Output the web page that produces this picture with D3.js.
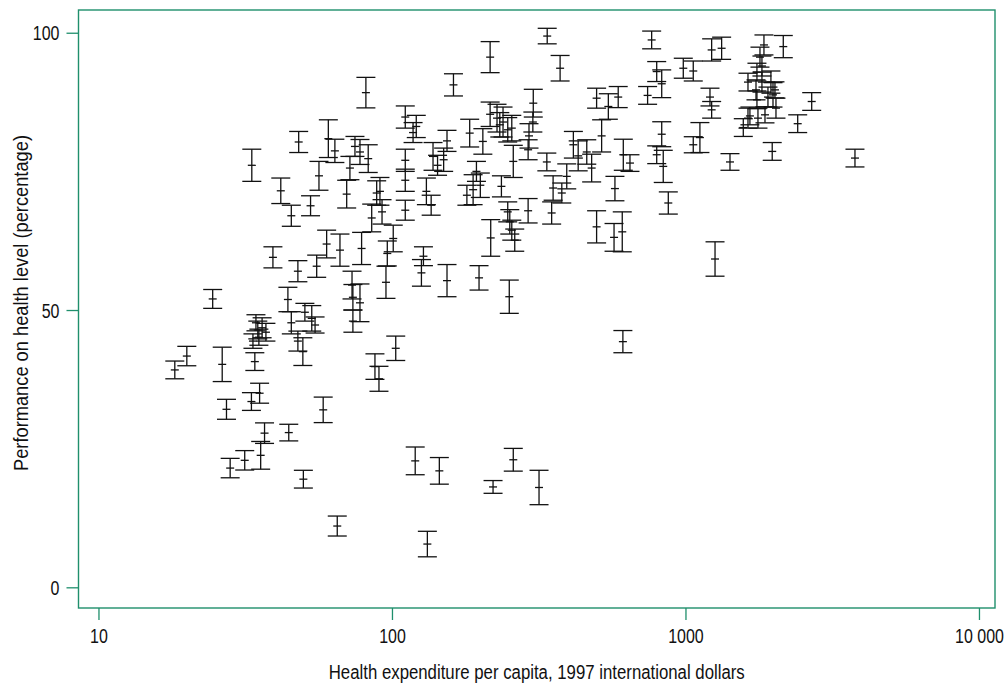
<!DOCTYPE html>
<html>
<head>
<meta charset="utf-8">
<script src="https://cdn.jsdelivr.net/npm/d3@7"></script>
<style>
  body { margin: 0; background: #fff; }
  svg { display: block; }
  text { font-family: "Liberation Sans Narrow", "Arial Narrow", "Liberation Sans", sans-serif; fill: #111; }
</style>
</head>
<body>
<script>
// health expenditure per capita (1997 intl dollars)
const spending = [
  18.2, 20.0, 24.5, 26.4, 27.3, 28.1, 31.5, 33.2, 33.3, 34.1, 35.4, 35.7, 36.8, 39.3, 41.8,
  44.5, 45.4, 44.2, 45.4, 48.1, 47.8, 47.8, 49.7, 49.9, 34.4, 34.9, 35.2, 36.1, 37.2, 33.6,
  52.8, 55.4, 56.4, 53.3, 50.5, 54.7, 58.3, 60.7, 63.9, 59.9, 66.5, 65.1, 70.1, 71.9, 74.8,
  77.8, 73.6, 77.8, 73.6, 73.1, 78.8, 81.5, 83.0, 85.3, 88.7, 91.0, 87.5, 90.3, 96.4, 95.4,
  101, 103, 92.5,
  111, 118, 121, 111, 111, 111, 126, 128, 131, 138, 150, 154, 154, 162, 143, 136, 120, 132, 145,
  184, 204, 216, 194, 180, 189, 200, 216, 228, 233, 239, 248, 256, 259, 236, 198, 217, 251,
  221, 259, 317, 248, 252, 256, 262, 291, 291, 303, 302, 293,
  338, 374, 337, 350, 379, 354, 394, 415, 431, 461, 479, 498, 518, 498, 546, 571, 575, 590,
  609, 614, 612,
  647, 743, 767, 798, 830, 830, 798, 840, 874, 983, 1063, 1120, 1063, 1212, 1228, 1228, 1328,
  1261, 1418,
  1851, 2154, 1574, 1633, 2692, 2412, 3780, 1975, 1794, 1822, 1752, 1822, 1739, 1955, 1987,
  1752, 1910, 2034, 1766, 1866, 1658, 2018, 1633
];
// performance on health level (%)
const performance = [
  39.2, 41.7, 52.0, 40.2, 32.1, 21.5, 22.9, 33.5, 76.1, 40.7, 35.0, 23.8, 27.8, 59.5, 71.5,
  27.9, 67.0, 51.9, 47.7, 80.3, 57.0, 44.4, 42.5, 19.5, 47.7, 46.4, 45.1, 46.8, 46.0, 44.4,
  68.8, 57.9, 74.2, 48.5, 49.6, 47.3, 32.0, 80.9, 78.7, 61.9, 60.8, 11.05, 70.9, 75.6, 79.5,
  78.5, 52.3, 51.3, 48.0, 54.5, 61.1, 89.2, 77.3, 66.6, 71.1, 71.4, 39.8, 37.6, 60.2, 55.0,
  62.9, 43.1, 67.7,
  84.8, 82.0, 83.1, 77.0, 73.4, 68.0, 56.7, 59.7, 71.4, 77.7, 77.1, 80.5, 55.3, 90.6, 76.1, 68.9, 22.8, 7.8, 21.0,
  81.9, 80.4, 95.6, 75.0, 70.7, 71.7, 72.5, 85.3, 84.6, 83.4, 83.9, 82.5, 82.8, 76.8, 72.3, 55.8, 63.0, 52.4,
  18.1, 23.0, 18.0, 67.7, 65.9, 64.4, 62.6, 67.9, 78.9, 87.3, 83.9, 81.4,
  99.4, 93.6, 76.7, 67.5, 71.1, 72.0, 74.1, 79.8, 77.8, 78.5, 75.6, 88.2, 81.4, 65.0, 86.7, 63.1, 71.9, 88.4,
  64.1, 78.0, 44.3,
  76.5, 88.7, 98.7, 93.0, 90.8, 81.7, 78.0, 75.9, 69.3, 93.6, 93.1, 81.1, 79.8, 88.4, 86.1, 96.9, 97.2,
  59.2, 76.7,
  97.8, 97.5, 82.9, 84.6, 87.6, 83.6, 77.4, 78.6, 95.6, 94.0, 92.9, 91.1, 89.7, 91.1, 88.8,
  87.9, 88.4, 86.4, 84.6, 85.2, 85.0, 89.7, 91.1
];
// half-width of the uncertainty interval (percentage points)
const uncertainty = [
  1.6, 1.75, 1.7, 3.1, 1.8, 1.75, 1.75, 1.6, 2.9, 1.6, 1.8, 2.5, 1.85, 1.9, 2.3,
  1.5, 1.9, 2.2, 2.0, 1.9, 1.9, 1.8, 2.5, 1.6, 1.45, 1.6, 1.45, 1.8, 1.6, 1.3,
  1.8, 2.0, 2.6, 2.3, 1.6, 1.45, 2.3, 3.4, 2.1, 2.5, 2.9, 1.8, 2.5, 2.1, 1.8,
  2.25, 2.3, 3.4, 2.0, 2.5, 2.9, 2.75, 2.5, 2.5, 2.2, 2.5, 2.3, 2.25, 2.25, 2.9,
  2.4, 2.2, 2.2,
  2.0, 1.8, 2.0, 2.0, 2.0, 1.8, 2.4, 1.7, 2.4, 2.5, 2.1, 1.9, 2.9, 2.0, 1.8, 1.8, 2.5, 2.3, 2.4,
  2.5, 2.3, 2.8, 1.8, 1.8, 2.7, 2.2, 2.2, 2.5, 2.2, 2.7, 2.2, 2.3, 2.9, 1.9, 2.2, 3.3, 3.0,
  1.15, 2.05, 3.1, 1.8, 2.2, 1.8, 2.0, 2.2, 1.8, 2.5, 1.8, 2.2,
  1.4, 2.3, 1.6, 2.0, 1.8, 2.2, 2.25, 2.4, 2.7, 2.2, 2.5, 1.8, 2.9, 2.9, 2.3, 2.5, 2.2, 1.9,
  3.6, 2.8, 2.0,
  1.5, 1.6, 1.6, 1.8, 2.5, 2.25, 1.6, 2.9, 2.0, 1.8, 1.8, 2.7, 1.45, 1.6, 1.5, 2.0, 2.0,
  3.1, 1.5,
  1.8, 2.0, 1.6, 1.8, 1.6, 1.6, 1.6, 1.6, 1.8, 1.8, 1.6, 1.8, 1.8, 2.0, 2.2,
  1.6, 1.8, 1.8, 1.8, 1.45, 1.6, 1.45, 1.6
];

const xTicks = [10, 100, 1000, 10000];
const xTickLabels = ["10", "100", "1000", "10 000"];
const yTicks = [0, 50, 100];

const width = 1004, height = 685;
const plotLeft = 78.5, plotRight = 995, plotTop = 10, plotBottom = 608;
const frameColor = "#1f8f6c";
const fontStack = '"Liberation Sans Narrow", "Arial Narrow", "Liberation Sans", sans-serif';
const squeeze = 0.82; // no narrow face installed, so squeeze the regular one

const svg = d3.select("body").append("svg")
  .attr("width", width)
  .attr("height", height);

const x = d3.scaleLog().domain([8.55, 11340]).range([plotLeft, plotRight]);
const y = d3.scaleLinear().domain([-3.73, 104.1]).range([plotBottom, plotTop]);

// axes
const xAxis = svg.append("g")
  .attr("transform", `translate(0,${plotBottom})`)
  .call(d3.axisBottom(x).tickValues(xTicks).tickSize(12).tickSizeOuter(0)
    .tickFormat((d, i) => xTickLabels[i]));
const yAxis = svg.append("g")
  .attr("transform", `translate(${plotLeft},0)`)
  .call(d3.axisLeft(y).tickValues(yTicks).tickSize(12).tickSizeOuter(0));

[xAxis, yAxis].forEach(g => {
  g.select(".domain").remove();
  g.selectAll(".tick line").attr("stroke", frameColor).attr("stroke-width", 1.3);
  g.selectAll(".tick text").attr("font-size", 19.5).attr("fill", "#111")
    .style("font-family", fontStack)
    .attr("transform", `scale(${squeeze},1)`);
});
xAxis.selectAll(".tick text").attr("dy", null).attr("y", 35);
yAxis.selectAll(".tick text").attr("x", -19 / squeeze).attr("dy", "0.36em");

// frame
svg.append("rect")
  .attr("x", plotLeft).attr("y", plotTop)
  .attr("width", plotRight - plotLeft).attr("height", plotBottom - plotTop)
  .attr("fill", "none")
  .attr("stroke", frameColor)
  .attr("stroke-width", 1.4);

// error bars
const data = spending.map((s, i) => ({ s: s, p: performance[i], e: uncertainty[i] }));
const capHalf = 9.5, markHalf = 4;

const bars = svg.append("g")
  .attr("stroke", "#111")
  .attr("stroke-width", 1.3)
  .attr("fill", "none")
  .selectAll("g")
  .data(data)
  .join("g");

bars.append("line")
  .attr("x1", d => x(d.s)).attr("x2", d => x(d.s))
  .attr("y1", d => y(d.p + d.e)).attr("y2", d => y(d.p - d.e));
bars.append("line")
  .attr("x1", d => x(d.s) - capHalf).attr("x2", d => x(d.s) + capHalf)
  .attr("y1", d => y(d.p + d.e)).attr("y2", d => y(d.p + d.e));
bars.append("line")
  .attr("x1", d => x(d.s) - capHalf).attr("x2", d => x(d.s) + capHalf)
  .attr("y1", d => y(d.p - d.e)).attr("y2", d => y(d.p - d.e));
bars.append("line")
  .attr("x1", d => x(d.s) - markHalf).attr("x2", d => x(d.s) + markHalf)
  .attr("y1", d => y(d.p)).attr("y2", d => y(d.p));

// axis titles
svg.append("text")
  .attr("x", (plotLeft + plotRight) / 2)
  .attr("y", 679)
  .attr("text-anchor", "middle")
  .attr("font-size", 20)
  .attr("textLength", 416)
  .attr("lengthAdjust", "spacingAndGlyphs")
  .text("Health expenditure per capita, 1997 international dollars");

svg.append("text")
  .attr("transform", "translate(28,303) rotate(-90)")
  .attr("text-anchor", "middle")
  .attr("font-size", 20)
  .attr("textLength", 336)
  .attr("lengthAdjust", "spacingAndGlyphs")
  .text("Performance on health level (percentage)");
</script>
</body>
</html>
